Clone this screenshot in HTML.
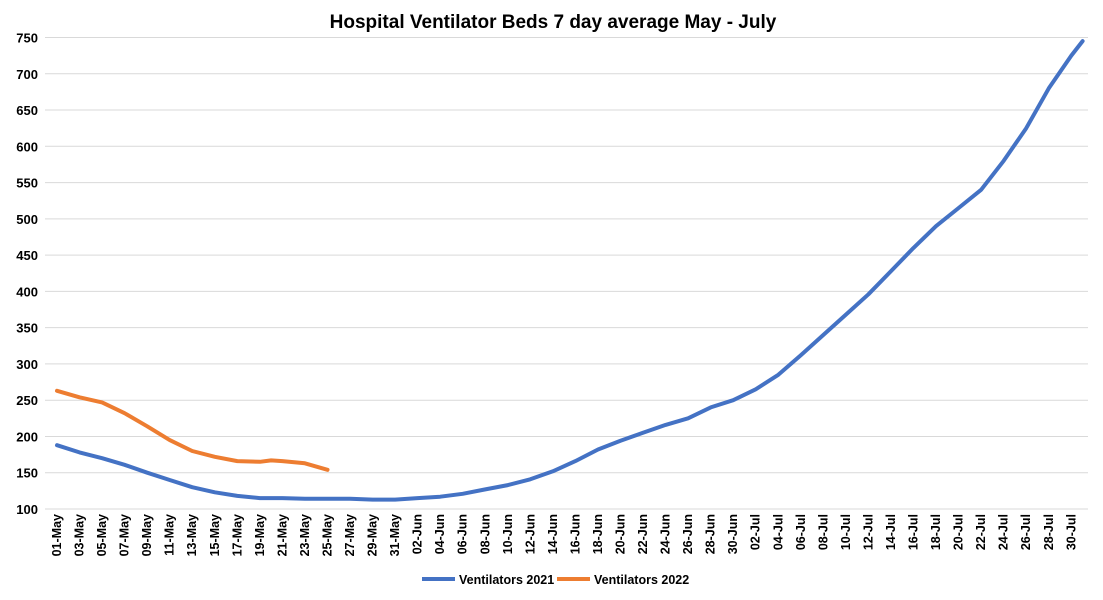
<!DOCTYPE html>
<html><head><meta charset="utf-8">
<style>body{margin:0;background:#fff}svg{display:block}text{font-family:"Liberation Sans",sans-serif;fill:#000}</style>
</head><body>
<svg id="s" width="1103" height="600" xmlns="http://www.w3.org/2000/svg">
<text x="553" y="28" text-anchor="middle" font-size="19" font-weight="bold">Hospital Ventilator Beds 7 day average May - July</text>
<g id="g"></g>
<line x1="422" y1="579" x2="455" y2="579" stroke="#4472C4" stroke-width="4"/>
<text x="459" y="584" font-size="12.5" font-weight="bold">Ventilators 2021</text>
<line x1="557" y1="579" x2="590" y2="579" stroke="#ED7D31" stroke-width="4"/>
<text x="594" y="584" font-size="12.5" font-weight="bold">Ventilators 2022</text>
</svg>
<script>
const g=document.getElementById('g');let h='';
const Y=v=>509-(v-100)*0.7254, X=d=>57+d*11.27;
for(let v=100;v<=750;v+=50){const y=Y(v);h+=`<line x1="45" x2="1088" y1="${y}" y2="${y}" stroke="#d9d9d9" stroke-width="1"/><text x="38" y="${y+5}" text-anchor="end" font-size="13" font-weight="bold">${v}</text>`;}
const lab=[];for(let d=1;d<=31;d+=2)lab.push([d-1,String(d).padStart(2,'0')+'-May']);
for(let d=2;d<=30;d+=2)lab.push([30+d,String(d).padStart(2,'0')+'-Jun']);
for(let d=2;d<=30;d+=2)lab.push([60+d,String(d).padStart(2,'0')+'-Jul']);
lab.forEach(([i,t])=>{const x=X(i)+4;h+=`<text transform="translate(${x},514) rotate(-90)" text-anchor="end" font-size="12.5" font-weight="bold">${t}</text>`;});
const b=[[0,188],[2,178],[4,170],[6,161],[8,150],[10,140],[12,130],[14,123],[16,118],[18,115],[20,115],[22,114],[24,114],[26,114],[28,113],[30,113],[32,115],[34,117],[36,121],[38,127],[40,133],[42,141],[44,152],[46,166],[48,182],[50,194],[52,205],[54,216],[56,225],[58,240],[60,250],[62,265],[64,285],[66,312],[68,340],[70,368],[72,396],[74,428],[76,460],[78,490],[80,515],[82,540],[84,580],[86,625],[88,680],[90,725],[91,745]];
const o=[[0,263],[2,254],[4,247],[6,232],[8,214],[10,195],[12,180],[14,172],[16,166],[18,165],[19,167],[20,166],[22,163],[24,154]];
const P=a=>a.map(([d,v])=>X(d).toFixed(1)+','+Y(v).toFixed(1)).join(' ');
h+=`<polyline points="${P(b)}" fill="none" stroke="#4472C4" stroke-width="4" stroke-linejoin="round" stroke-linecap="round"/>`;
h+=`<polyline points="${P(o)}" fill="none" stroke="#ED7D31" stroke-width="4" stroke-linejoin="round" stroke-linecap="round"/>`;
g.innerHTML=h;
</script>
</body></html>
